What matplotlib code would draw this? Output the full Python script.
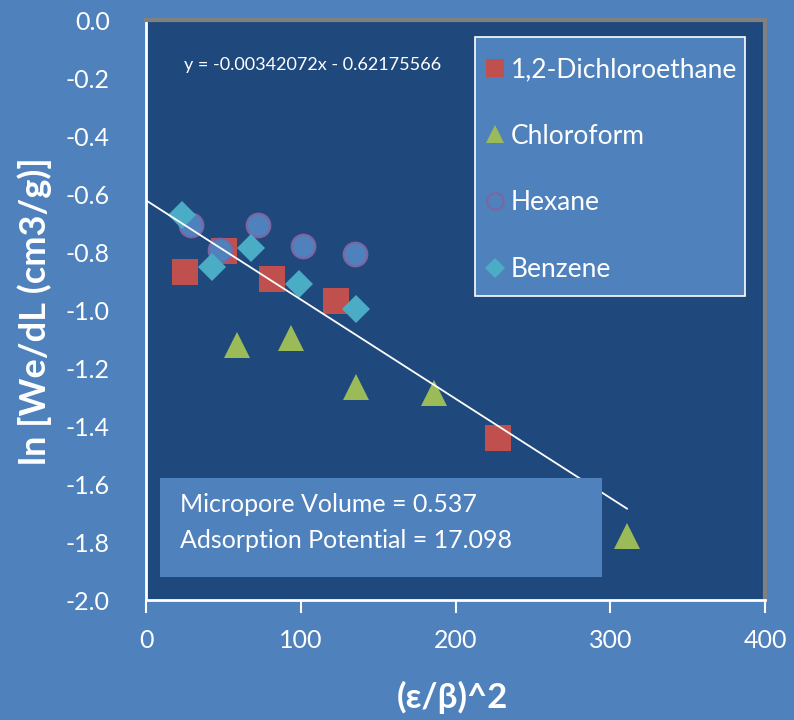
import numpy as np
import matplotlib
matplotlib.use("Agg")
import matplotlib.pyplot as plt
from matplotlib.patches import Rectangle

plt.rcParams['font.family'] = ['Lato', 'DejaVu Sans']

# D-R plot data, x = (eps/beta)^2, y = ln[We/dL]
dce_x = [25.2, 50.4, 81.4, 122.8, 227.5]
dce_y = [-0.869, -0.797, -0.893, -0.969, -1.441]

chl_x = [58.6, 93.5, 135.7, 186.1, 310.8]
chl_y = [-1.121, -1.095, -1.266, -1.286, -1.779]

hex_x = [28.9, 47.8, 72.4, 101.3, 135.1]
hex_y = [-0.707, -0.793, -0.707, -0.778, -0.808]

ben_x = [23.1, 42.5, 67.9, 98.7, 135.7]
ben_y = [-0.672, -0.851, -0.787, -0.910, -0.996]

slope = -0.00342072
intercept = -0.62175566
micropore_volume = 0.537
adsorption_potential = 17.098

xticks = [0, 100, 200, 300, 400]
yticks = [0.0, -0.2, -0.4, -0.6, -0.8, -1.0, -1.2, -1.4, -1.6, -1.8, -2.0]

bg = '#4F81BD'
plot_bg = '#1F497D'

fig = plt.figure(figsize=(7.94, 7.2), dpi=100, facecolor=bg)
ax = fig.add_axes([146/794, 120/720, 619/794, 580/720])
ax.set_facecolor(plot_bg)

ax.plot(dce_x, dce_y, 's', color='#C0504D', markersize=18.5, markeredgewidth=0,
        label='1,2-Dichloroethane', zorder=3)
ax.plot(chl_x, chl_y, '^', color='#9BBB59', markersize=18.5, markeredgewidth=0,
        label='Chloroform', zorder=3)
ax.plot(hex_x, hex_y, 'o', markerfacecolor=bg, markeredgecolor='#8064A2',
        markersize=17, markeredgewidth=1.5, label='Hexane', zorder=3)
ax.plot(ben_x, ben_y, 'D', color='#4BACC6', markersize=14.5, markeredgewidth=0,
        label='Benzene', zorder=3)

# linear fit, extended back to x = 0
all_x = dce_x + chl_x + hex_x + ben_x
fit_x = np.array([0, max(all_x)])
ax.plot(fit_x, slope * fit_x + intercept, color='white', linewidth=1.3, zorder=4)

ax.text(0.0614, 0.922, 'y = %.8fx - %.8f' % (slope, -intercept), transform=ax.transAxes,
        color='white', fontsize=13, va='center', ha='left')

ax.set_xlim(0, 400)
ax.set_ylim(-2.0, 0.0)
ax.set_xticks(xticks)
ax.set_yticks(yticks)
ax.set_yticklabels(['%.1f' % v for v in yticks])
ax.tick_params(axis='x', colors='white', labelsize=18, length=9, width=1.5,
               direction='out', pad=12)
ax.tick_params(axis='y', colors='white', labelsize=18, length=0, pad=26)

for side in ['top', 'right']:
    ax.spines[side].set_color('#808080')
    ax.spines[side].set_linewidth(3)
for side in ['left', 'bottom']:
    ax.spines[side].set_color('white')
    ax.spines[side].set_linewidth(2)

# legend box drawn separately so the padding can differ per side
ax.add_patch(Rectangle((0.5315, 0.524), 0.436, 0.4466, transform=ax.transAxes,
                       facecolor=bg, edgecolor='white', linewidth=1.2, zorder=5))
leg = ax.legend(loc='upper left', bbox_to_anchor=(0.5477, 0.9365), fontsize=19,
                frameon=False, markerscale=0.7, labelspacing=1.58, borderpad=0,
                handlelength=0.72, handletextpad=0.26, borderaxespad=0)
leg.set_zorder(6)
for t in leg.get_texts():
    t.set_color('white')

box = Rectangle((0.0226, 0.0397), 0.714, 0.1707, transform=ax.transAxes,
                facecolor=bg, edgecolor='none', zorder=5)
ax.add_patch(box)
ax.text(0.055, 0.1638, 'Micropore Volume = %.3f' % micropore_volume,
        transform=ax.transAxes, color='white', fontsize=18, va='center', zorder=6)
ax.text(0.055, 0.1034, 'Adsorption Potential = %.3f' % adsorption_potential,
        transform=ax.transAxes, color='white', fontsize=18, va='center', zorder=6)

fig.text(35/794, 1 - 311/720, 'ln [We/dL (cm3/g)]', rotation=90, ha='center',
         va='center', color='white', fontsize=26, fontweight='bold')
fig.text(452/794, 1 - 697/720, '(ε/β)^2', ha='center', va='center',
         color='white', fontsize=25, fontweight='bold')

fig.savefig('out.png', dpi=100, facecolor=bg)
